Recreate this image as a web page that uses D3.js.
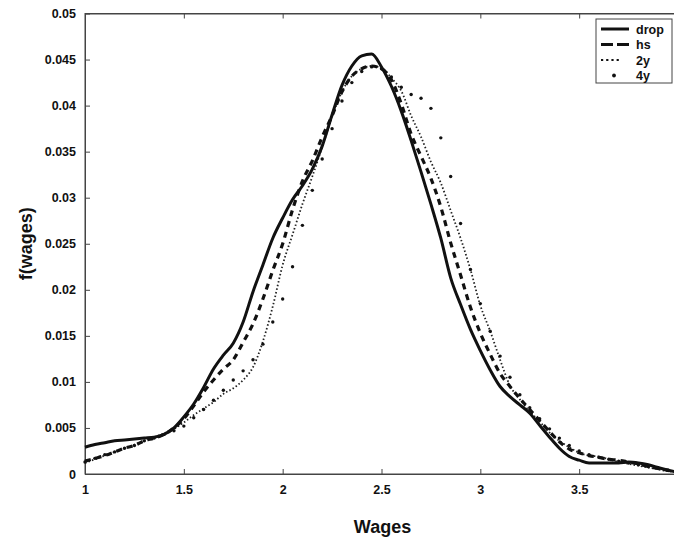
<!DOCTYPE html>
<html>
<head>
<meta charset="utf-8">
<script src="https://cdn.jsdelivr.net/npm/d3@7"></script>
<style>
  body { margin: 0; background: #fff; }
  svg text { font-family: "Liberation Sans", Arial, sans-serif; font-weight: bold; fill: #111; }
</style>
</head>
<body>
<div id="chart"></div>
<script>
// wage grid (log wages), one value every 0.05
const wages = d3.range(61).map(i => +(1 + i * 0.05).toFixed(2));

const drop = [0.0029, 0.0032, 0.0034, 0.0036, 0.0037, 0.0038, 0.0039, 0.0040, 0.0043, 0.0050,
  0.0062, 0.0076, 0.0094, 0.0114, 0.0129, 0.0142, 0.0165, 0.0198, 0.0227, 0.0256,
  0.0278, 0.0298, 0.0313, 0.0331, 0.0356, 0.0390, 0.0422, 0.0443, 0.0454, 0.0456,
  0.0442, 0.0421, 0.0394, 0.0362, 0.0328, 0.0293, 0.0256, 0.0213, 0.0184, 0.0157,
  0.0134, 0.0113, 0.0095, 0.0084, 0.0075, 0.0066, 0.0053, 0.0040, 0.0028, 0.0019,
  0.0015, 0.0012, 0.0012, 0.0012, 0.0012, 0.0013, 0.0012, 0.0010, 0.0007, 0.0004, 0.0002];

const hs = [0.0014, 0.0017, 0.0020, 0.0024, 0.0028, 0.0031, 0.0036, 0.0039, 0.0043, 0.0050,
  0.0060, 0.0074, 0.0089, 0.0102, 0.0114, 0.0124, 0.0143, 0.0163, 0.0190, 0.0221,
  0.0250, 0.0287, 0.0318, 0.0340, 0.0366, 0.0389, 0.0415, 0.0432, 0.0440, 0.0443,
  0.0440, 0.0428, 0.0402, 0.0369, 0.0345, 0.0321, 0.0290, 0.0251, 0.0216, 0.0181,
  0.0153, 0.0130, 0.0109, 0.0095, 0.0082, 0.0070, 0.0058, 0.0046, 0.0035, 0.0027,
  0.0023, 0.0020, 0.0018, 0.0016, 0.0015, 0.0013, 0.0011, 0.0008, 0.0006, 0.0004, 0.0002];

const twoYear = [0.0012, 0.0016, 0.0020, 0.0024, 0.0028, 0.0032, 0.0036, 0.0040, 0.0044, 0.0049,
  0.0056, 0.0064, 0.0071, 0.0078, 0.0087, 0.0093, 0.0102, 0.0116, 0.0144, 0.0182,
  0.0227, 0.0260, 0.0293, 0.0323, 0.0355, 0.0388, 0.0415, 0.0432, 0.0440, 0.0443,
  0.0441, 0.0430, 0.0416, 0.0389, 0.0366, 0.0339, 0.0316, 0.0286, 0.0256, 0.0222,
  0.0183, 0.0155, 0.0124, 0.0096, 0.0081, 0.0068, 0.0057, 0.0045, 0.0036, 0.0029,
  0.0023, 0.0020, 0.0019, 0.0016, 0.0013, 0.0011, 0.0009, 0.0007, 0.0005, 0.0003, 0.0002];

const fourYear = [0.0013, 0.0017, 0.0021, 0.0024, 0.0028, 0.0031, 0.0036, 0.0039, 0.0043, 0.0047,
  0.0052, 0.0061, 0.0070, 0.0080, 0.0091, 0.0102, 0.0112, 0.0124, 0.0141, 0.0165,
  0.0190, 0.0225, 0.0270, 0.0308, 0.0342, 0.0375, 0.0405, 0.0425, 0.0437, 0.0442,
  0.0440, 0.0431, 0.0420, 0.0412, 0.0408, 0.0397, 0.0365, 0.0323, 0.0272, 0.0222,
  0.0185, 0.0155, 0.0128, 0.0105, 0.0086, 0.0072, 0.0060, 0.0049, 0.0039, 0.0031,
  0.0025, 0.0021, 0.0018, 0.0016, 0.0014, 0.0012, 0.0010, 0.0008, 0.0006, 0.0004, 0.0003];

const xTicks = [1, 1.5, 2, 2.5, 3, 3.5, 4];
const yTicks = [0, 0.005, 0.01, 0.015, 0.02, 0.025, 0.03, 0.035, 0.04, 0.045, 0.05];
const legendLabels = ["drop", "hs", "2y", "4y"];

var width = 674, height = 553;
var margin = { left: 85, top: 13.5 };
var plotW = 593, plotH = 460.5;

var svg = d3.select("#chart").append("svg")
  .attr("width", width)
  .attr("height", height);

var x = d3.scaleLinear().domain([1, 4]).range([margin.left, margin.left + plotW]);
var y = d3.scaleLinear().domain([0, 0.05]).range([margin.top + plotH, margin.top]);

// frame (MATLAB box on, ticks pointing inward)
svg.append("rect")
  .attr("x", x(1)).attr("y", y(0.05))
  .attr("width", plotW).attr("height", plotH)
  .attr("fill", "none").attr("stroke", "#444").attr("stroke-width", 1);

var fmt = d => d === 0 ? "0" : String(+d.toFixed(3));
// the 4 label falls off the right edge of the figure, so it is left out
var xFmt = d => d === 4 ? "" : fmt(d);

var xAxis = svg.append("g")
  .attr("transform", "translate(0," + y(0) + ")")
  .call(d3.axisBottom(x).tickValues(xTicks).tickFormat(xFmt).tickSizeInner(-5).tickSizeOuter(0).tickPadding(11));
var xTop = svg.append("g")
  .attr("transform", "translate(0," + y(0.05) + ")")
  .call(d3.axisTop(x).tickValues(xTicks).tickFormat("").tickSizeInner(-5).tickSizeOuter(0));
var yAxis = svg.append("g")
  .attr("transform", "translate(" + x(1) + ",0)")
  .call(d3.axisLeft(y).tickValues(yTicks).tickFormat(fmt).tickSizeInner(-5).tickSizeOuter(0).tickPadding(9));

[xAxis, xTop, yAxis].forEach(function (g) {
  g.select(".domain").attr("stroke", "#444");
  g.selectAll(".tick line").attr("stroke", "#444");
  g.selectAll("text").style("font-size", "12.5px").attr("fill", "#111");
});

// curves
function lineFor(vals) {
  return d3.line()
    .x((d, i) => x(wages[i]))
    .y(d => y(d))
    .curve(d3.curveMonotoneX)(vals);
}

var plot = svg.append("g");

plot.append("path").attr("d", lineFor(twoYear))
  .attr("fill", "none").attr("stroke", "#222")
  .attr("stroke-width", 1.8).attr("stroke-dasharray", "1.5,2.2");

plot.selectAll("circle.fy")
  .data(fourYear)
  .join("circle")
  .attr("class", "fy")
  .attr("cx", (d, i) => x(wages[i]))
  .attr("cy", d => y(d))
  .attr("r", 1.7)
  .attr("fill", "#111");

plot.append("path").attr("d", lineFor(hs))
  .attr("fill", "none").attr("stroke", "#111")
  .attr("stroke-width", 3.2).attr("stroke-dasharray", "6,5");

plot.append("path").attr("d", lineFor(drop))
  .attr("fill", "none").attr("stroke", "#111")
  .attr("stroke-width", 3).attr("stroke-linejoin", "round");

// legend
var lg = svg.append("g");
lg.append("rect")
  .attr("x", 596).attr("y", 19).attr("width", 76).attr("height", 64)
  .attr("fill", "#fff").attr("stroke", "#444").attr("stroke-width", 1);

legendLabels.forEach(function (name, i) {
  var ly = 29 + i * 15.5;
  if (i === 0) {
    lg.append("line").attr("x1", 601).attr("x2", 629).attr("y1", ly).attr("y2", ly)
      .attr("stroke", "#111").attr("stroke-width", 3);
  } else if (i === 1) {
    lg.append("line").attr("x1", 601).attr("x2", 629).attr("y1", ly).attr("y2", ly)
      .attr("stroke", "#111").attr("stroke-width", 3).attr("stroke-dasharray", "12,4");
  } else if (i === 2) {
    lg.append("line").attr("x1", 601).attr("x2", 621).attr("y1", ly).attr("y2", ly)
      .attr("stroke", "#111").attr("stroke-width", 2.2).attr("stroke-dasharray", "2.2,3");
  } else {
    lg.append("circle").attr("cx", 614).attr("cy", ly).attr("r", 1.9).attr("fill", "#111");
  }
  lg.append("text").attr("x", 636).attr("y", ly + 4.5)
    .style("font-size", "12.5px").text(name);
});

// axis titles
svg.append("text")
  .attr("x", x(2.5) + 1).attr("y", 533)
  .attr("text-anchor", "middle")
  .style("font-size", "18px")
  .text("Wages");

svg.append("text")
  .attr("transform", "translate(32," + y(0.025) + ") rotate(-90)")
  .attr("text-anchor", "middle")
  .style("font-size", "18px")
  .text("f(wages)");
</script>
</body>
</html>
